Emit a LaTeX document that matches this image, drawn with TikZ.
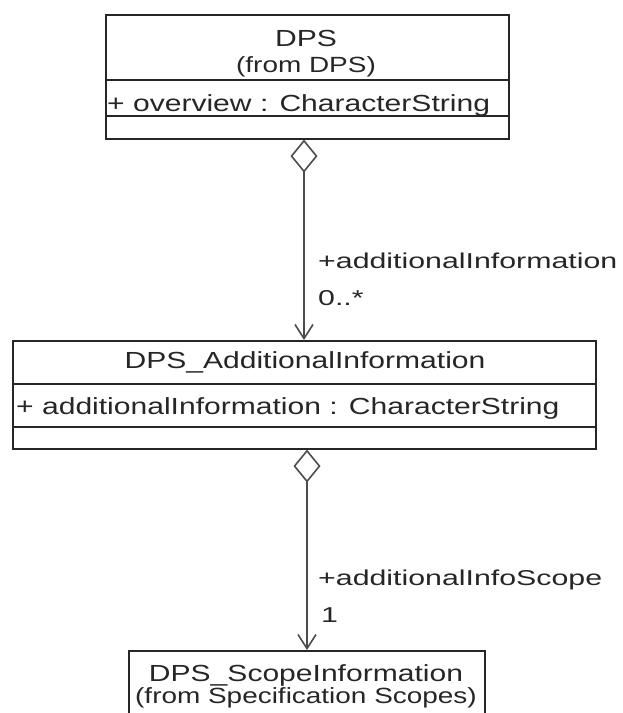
\documentclass[tikz,border=0pt]{standalone}
\usepackage{fontspec}
\setmainfont{Liberation Sans}
\newfontfamily\clsfont[FakeStretch=1.29]{Liberation Sans}
\newfontfamily\lblfont[FakeStretch=1.41]{Liberation Sans}
\newfontfamily\frmfont[FakeStretch=1.27]{Liberation Sans}
\usetikzlibrary{arrows.meta}
\begin{document}
\begin{tikzpicture}[x=1pt,y=-1pt,
  cell/.style={draw=black!85, line width=1.6pt, inner sep=0pt, anchor=north west},
  cname/.style={font=\clsfont\fontsize{23.3}{24}\selectfont, inner sep=0pt, anchor=base, text=black!85},
  cfrom/.style={font=\frmfont\fontsize{22}{22}\selectfont, inner sep=0pt, anchor=base, text=black!85},
  cattr/.style={font=\clsfont\fontsize{23.3}{24}\selectfont, inner sep=0pt, anchor=base west, text=black!85},
  lbl/.style={font=\lblfont\fontsize{21.5}{22}\selectfont, inner sep=0pt, anchor=base west, text=black!85},
  assoc/.style={draw=black!70, line width=1.6pt,
    {Diamond[open,length=33pt,width=27pt]}-{Straight Barb[length=14pt,width=18pt]}}]
\useasboundingbox (0,0) rectangle (622,713);
% top class
\node[cell, minimum width=403pt, minimum height=65pt] (topname) at (105,14) {};
\node[cell, minimum width=403pt, minimum height=36pt] (topattr) at (105,79) {};
\node[cell, minimum width=403pt, minimum height=23pt] (topops) at (105,115) {};
\node[cname] (t1) at (306,46) {DPS};
\node[cfrom] (t2) at (306,72) {(from DPS)};
\node[cattr] (t3) at (107,111) {+ overview : CharacterString};
% middle class
\node[cell, minimum width=583pt, minimum height=43pt] (midname) at (12,340) {};
\node[cell, minimum width=583pt, minimum height=43pt] (midattr) at (12,383) {};
\node[cell, minimum width=583pt, minimum height=22pt] (midops) at (12,426) {};
\node[cname] (m1) at (305,368) {DPS\_AdditionalInformation};
\node[cattr] (m2) at (16,414) {+ additionalInformation : CharacterString};
% bottom class
\node[cell, minimum width=356pt, minimum height=90pt] (botname) at (128,650) {};
\node[cname] (b1) at (306,681) {DPS\_ScopeInformation};
\node[cfrom] (b2) at (306,703) {(from Specification Scopes)};
% associations
\draw[assoc] (topops.south -| 304,0) -- (midname.north -| 304,0);
\node[lbl] (l1) at (318,268) {+additionalInformation};
\node[lbl] (l2) at (318,305) {0..*};
\draw[assoc] (midops.south -| 307,0) -- (botname.north -| 307,0);
\node[lbl] (l3) at (318,585) {+additionalInfoScope};
\node[lbl] (l4) at (321,622) {1};
\end{tikzpicture}
\end{document}
